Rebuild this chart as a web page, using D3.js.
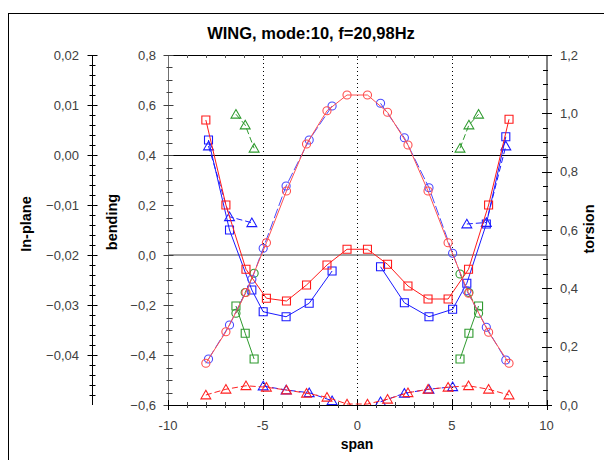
<!DOCTYPE html>
<html>
<head>
<meta charset="utf-8">
<script src="https://cdn.jsdelivr.net/npm/d3@7"></script>
<style>
  body { margin: 0; background: #fff; }
  text { font-family: "Liberation Sans", Arial, sans-serif; }
</style>
</head>
<body>
<svg id="chart" width="604" height="460"></svg>
<script>
// all values in "bending" units (left axis)
const redSpan = [-8.0, -6.94, -5.88, -4.8, -3.74, -2.68, -1.6, -0.54, 0.54, 1.6, 2.68, 3.74, 4.8, 5.88, 6.94, 8.02];
const redCircle = [-0.433, -0.307, -0.15, 0.049, 0.256, 0.444, 0.577, 0.64, 0.64, 0.571, 0.44, 0.256, 0.049, -0.153, -0.309, -0.433];
const redSquare = [0.54, 0.2, -0.057, -0.173, -0.184, -0.12, -0.04, 0.023, 0.023, -0.037, -0.124, -0.176, -0.176, -0.057, 0.2, 0.543];
const redTriangle = [-0.56, -0.537, -0.523, -0.529, -0.54, -0.553, -0.569, -0.596, -0.596, -0.577, -0.551, -0.537, -0.529, -0.523, -0.537, -0.56];

const blueSpan = [-7.86, -6.75, -5.57, -4.97, -3.76, -2.54, -1.33, 1.23, 2.49, 3.79, 5.04, 5.79, 6.82, 7.85];
const blueCircle = [-0.416, -0.28, -0.097, 0.027, 0.276, 0.46, 0.596, 0.607, 0.469, 0.269, 0.007, -0.143, -0.289, -0.42];
const blueSquare = [0.46, 0.1, -0.14, -0.227, -0.247, -0.193, -0.064, -0.047, -0.191, -0.247, -0.217, -0.113, 0.124, 0.473];
const blueTriangle = [0.436, 0.153, 0.129, -0.524, -0.54, -0.551, -0.583, -0.587, -0.553, -0.537, -0.527, 0.124, 0.13, 0.436];

const greenSpan = [-6.41, -5.92, -5.45, 5.43, 5.9, 6.41];
const greenCircle = [-0.233, -0.15, -0.073, -0.076, -0.15, -0.233];
const greenSquare = [-0.204, -0.313, -0.416, -0.416, -0.313, -0.204];
const greenTriangle = [0.563, 0.52, 0.427, 0.427, 0.52, 0.563];

// index where a new line piece starts
const redBreaks = [];
const blueBreaks = [7];
const blueTriBreaks = [3, 7, 11];
const greenBreaks = [3];

const spanTicks = [-10, -5, 0, 5, 10];
const bendingTicks = [-0.6, -0.4, -0.2, 0.0, 0.2, 0.4, 0.6, 0.8];
const inplaneTicks = [-0.04, -0.03, -0.02, -0.01, 0.00, 0.01, 0.02];
const torsionTicks = [0.0, 0.2, 0.4, 0.6, 0.8, 1.0, 1.2];

const comma = d3.formatLocale({ decimal: ",", thousands: ".", grouping: [3], currency: ["", ""] });

const series = [
    { x: greenSpan, y: greenTriangle, breaks: greenBreaks, color: "#2e9a2e", shape: "triangle", dash: "6,3" },
    { x: greenSpan, y: greenSquare, breaks: greenBreaks, color: "#2e9a2e", shape: "square", dash: null },
    { x: greenSpan, y: greenCircle, breaks: greenBreaks, color: "#2e9a2e", shape: "circle", dash: "8,3" },
    { x: blueSpan, y: blueTriangle, breaks: blueTriBreaks, color: "#1a1aff", shape: "triangle", dash: "6,3" },
    { x: blueSpan, y: blueSquare, breaks: blueBreaks, color: "#1a1aff", shape: "square", dash: null },
    { x: blueSpan, y: blueCircle, breaks: blueBreaks, color: "#4a4aff", shape: "circle", dash: "10,3" },
    { x: redSpan, y: redTriangle, breaks: redBreaks, color: "#ff2020", shape: "triangle", dash: "6,3" },
    { x: redSpan, y: redSquare, breaks: redBreaks, color: "#ff1a1a", shape: "square", dash: null },
    { x: redSpan, y: redCircle, breaks: redBreaks, color: "#ff5050", shape: "circle", dash: null }
];

const svg = d3.select("#chart");

// outer frame
svg.append("rect")
    .attr("x", 8.5).attr("y", 13.5)
    .attr("width", 700).attr("height", 600)
    .attr("fill", "none").attr("stroke", "#000");

const pLeft = 168, pRight = 546.5, pTop = 55, pBottom = 405;

const xScale = d3.scaleLinear().domain([-10, 10]).range([pLeft, pRight]);
const yBend = d3.scaleLinear().domain([-0.6, 0.8]).range([pBottom, pTop]);
const yIn = d3.scaleLinear().domain([-0.05, 0.02]).range([pBottom, pTop]);
const yTor = d3.scaleLinear().domain([0, 1.2]).range([pBottom, pTop]);

svg.append("clipPath").attr("id", "plotclip")
    .append("rect")
    .attr("x", pLeft).attr("y", pTop)
    .attr("width", pRight - pLeft).attr("height", pBottom - pTop);

// reference lines
svg.append("line")
    .attr("x1", pLeft).attr("x2", pRight)
    .attr("y1", yIn(0) + 0.5).attr("y2", yIn(0) + 0.5)
    .attr("stroke", "#000");
svg.append("line")
    .attr("x1", pLeft).attr("x2", pRight)
    .attr("y1", yBend(0)).attr("y2", yBend(0))
    .attr("stroke", "#808080").attr("stroke-width", 1.5);

[-5, 0, 5].forEach(v => {
    svg.append("line")
        .attr("x1", Math.round(xScale(v)) + 0.5).attr("x2", Math.round(xScale(v)) + 0.5)
        .attr("y1", pTop).attr("y2", pBottom)
        .attr("stroke", "#000").attr("stroke-dasharray", "1,3");
});

// top border with small ticks
svg.append("line")
    .attr("x1", pLeft).attr("x2", pRight + 5)
    .attr("y1", pTop + 0.5).attr("y2", pTop + 0.5)
    .attr("stroke", "#000");
d3.range(-9, 10).forEach(v => {
    svg.append("line")
        .attr("x1", Math.round(xScale(v)) + 0.5).attr("x2", Math.round(xScale(v)) + 0.5)
        .attr("y1", pTop).attr("y2", pTop + 3)
        .attr("stroke", "#555");
});

// generic tick helper
function ticks(vals, scale, pos, a, b, color, vertical) {
    vals.forEach(v => {
        const p = Math.round(scale(v)) + 0.5;
        const l = svg.append("line").attr("stroke", color);
        if (vertical) l.attr("x1", pos + a).attr("x2", pos + b).attr("y1", p).attr("y2", p);
        else l.attr("x1", p).attr("x2", p).attr("y1", pos + a).attr("y2", pos + b);
    });
}

// in-plane axis
const ipX = 92.5;
svg.append("line").attr("x1", ipX).attr("x2", ipX).attr("y1", pTop).attr("y2", pBottom).attr("stroke", "#000");
ticks(d3.range(-0.048, 0.0201, 0.002), yIn, ipX, -3, 3, "#000", true);
ticks(inplaneTicks, yIn, ipX, -5, 5, "#000", true);
svg.append("g").selectAll("text").data(inplaneTicks).join("text")
    .attr("x", 79).attr("y", d => yIn(d) + 4.5)
    .attr("text-anchor", "end").attr("font-size", 13).attr("fill", "#404040")
    .text(d => comma.format(".2f")(d));

// bending axis
const bX = pLeft + 0.5;
svg.append("line").attr("x1", bX).attr("x2", bX).attr("y1", pTop).attr("y2", pBottom).attr("stroke", "#707070");
ticks(d3.range(-0.55, 0.8, 0.05), yBend, bX, -2, 4, "#404040", true);
ticks(bendingTicks, yBend, bX, -5, 5, "#404040", true);
svg.append("g").selectAll("text").data(bendingTicks).join("text")
    .attr("x", 156).attr("y", d => yBend(d) + 4.5)
    .attr("text-anchor", "end").attr("font-size", 13).attr("fill", "#404040")
    .text(d => comma.format(".1f")(d));

// torsion axis
const tX = pRight + 0.5;
svg.append("line").attr("x1", tX).attr("x2", tX).attr("y1", pTop).attr("y2", pBottom).attr("stroke", "#000");
ticks(d3.range(0.05, 1.2, 0.05), yTor, tX, -4, 1, "#000", true);
ticks(torsionTicks, yTor, tX, -5, 5, "#000", true);
svg.append("g").selectAll("text").data(torsionTicks).join("text")
    .attr("x", 560).attr("y", d => yTor(d) + 4.5)
    .attr("text-anchor", "start").attr("font-size", 13).attr("fill", "#404040")
    .text(d => comma.format(".1f")(d));

// span axis
svg.append("line").attr("x1", pLeft).attr("x2", pRight).attr("y1", pBottom + 0.5).attr("y2", pBottom + 0.5).attr("stroke", "#000");
ticks(d3.range(-9, 10), xScale, pBottom, -3, 3, "#404040", false);
ticks(spanTicks, xScale, pBottom, -5, 5, "#000", false);
svg.append("g").selectAll("text").data(spanTicks).join("text")
    .attr("x", d => xScale(d)).attr("y", 430)
    .attr("text-anchor", "middle").attr("font-size", 13).attr("fill", "#404040")
    .text(d => d);

// titles
svg.append("text").attr("x", 311).attr("y", 39).attr("text-anchor", "middle")
    .attr("font-size", 16.5).attr("font-weight", "bold").text("WING, mode:10, f=20,98Hz");
svg.append("text").attr("x", 357).attr("y", 449).attr("text-anchor", "middle")
    .attr("font-size", 14).attr("font-weight", "bold").text("span");
svg.append("text").attr("transform", "translate(31,224) rotate(-90)").attr("text-anchor", "middle")
    .attr("font-size", 14.5).attr("font-weight", "bold").text("In-plane");
svg.append("text").attr("transform", "translate(117,222) rotate(-90)").attr("text-anchor", "middle")
    .attr("font-size", 14.5).attr("font-weight", "bold").text("bending");
svg.append("text").attr("transform", "translate(594,229) rotate(-90)").attr("text-anchor", "middle")
    .attr("font-size", 14.5).attr("font-weight", "bold").text("torsion");

// series
const symbols = { circle: d3.symbolCircle, square: d3.symbolSquare, triangle: d3.symbolTriangle };
const symSize = { circle: 52, square: 64, triangle: 42 };
const plot = svg.append("g").attr("clip-path", "url(#plotclip)");

series.forEach(s => {
    const pts = s.x.map((x, i) => ({ x: x, y: s.y[i], i: i }));
    const cuts = [0, ...s.breaks, pts.length];
    const line = d3.line().x(d => xScale(d.x)).y(d => yBend(d.y));
    for (let k = 0; k < cuts.length - 1; k++) {
        plot.append("path")
            .attr("d", line(pts.slice(cuts[k], cuts[k + 1])))
            .attr("fill", "none")
            .attr("stroke", s.color)
            .attr("stroke-width", 1)
            .attr("stroke-dasharray", s.dash);
    }
    plot.append("g").selectAll("path").data(pts).join("path")
        .attr("transform", d => `translate(${xScale(d.x)},${yBend(d.y) + (s.shape === "triangle" ? 1 : 0)})`)
        .attr("d", d3.symbol().type(symbols[s.shape]).size(symSize[s.shape]))
        .attr("fill", "none")
        .attr("stroke", s.color)
        .attr("stroke-width", 1.1);
});
</script>
</body>
</html>
